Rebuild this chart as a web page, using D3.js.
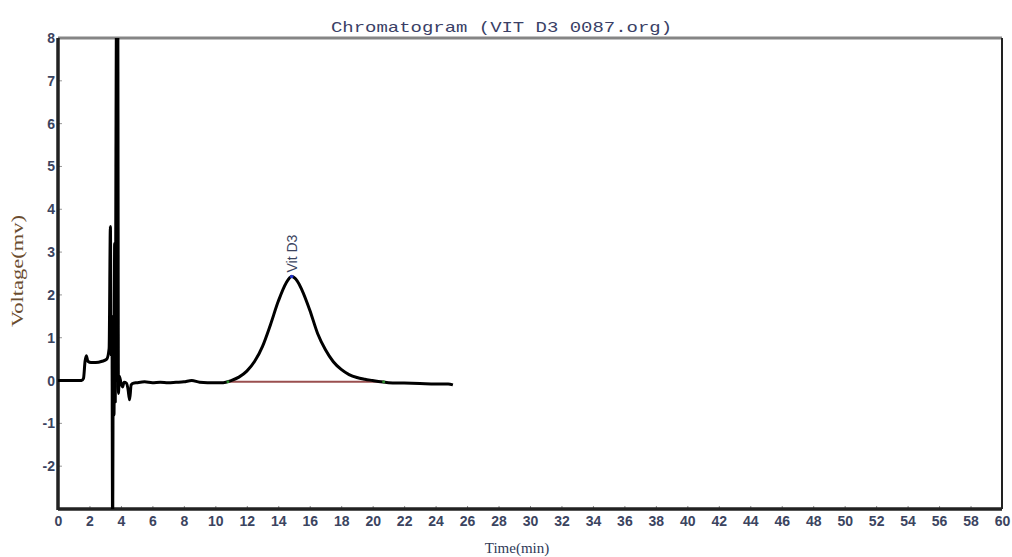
<!DOCTYPE html>
<html>
<head>
<meta charset="utf-8">
<script src="https://cdn.jsdelivr.net/npm/d3@7"></script>
<style>
  body { margin: 0; background: #fff; }
  svg { display: block; }
</style>
</head>
<body>
<div id="chart"></div>
<script>
// chromatogram trace, time (min) and voltage (mv)
var timeVals = [0, 0.5, 1.0, 1.5, 1.62, 1.72, 1.8, 1.9, 2.1, 2.4, 2.8, 3.1, 3.25, 3.33, 3.38, 3.43,
  3.47, 3.52, 3.56, 3.6, 3.64, 3.68, 3.72, 3.76, 3.8, 3.84, 3.9, 4.0, 4.1, 4.2, 4.35, 4.45, 4.55,
  4.65, 4.8, 5.0, 5.5, 6.0, 6.5, 7.0, 7.5, 8.0, 8.5, 9.0, 9.5, 10.0, 10.5, 11.0, 11.5, 12.0, 12.5,
  13.0, 13.5, 14.0, 14.5, 14.85, 15.2, 15.5, 16.0, 16.5, 17.0, 17.5, 18.0, 18.5, 19.0, 19.5, 20.0,
  20.5, 21.0, 22.0, 23.0, 24.0, 24.8, 25.1];
var voltVals = [0, 0, 0, 0, 0.05, 0.45, 0.58, 0.45, 0.42, 0.42, 0.45, 0.5, 0.75, 3.6, 0.6, 1.2,
  -3.6, 1.5, -0.8, 3.2, -0.5, 5.0, 8.6, 0.2, 8.6, -0.3, 0.1, -0.05, -0.15, -0.04, -0.06, -0.2, -0.45,
  -0.1, -0.06, -0.05, -0.03, -0.05, -0.04, -0.05, -0.04, -0.03, 0.0, -0.04, -0.05, -0.05, -0.05,
  0.0, 0.08, 0.22, 0.45, 0.8, 1.3, 1.85, 2.28, 2.43, 2.33, 2.12, 1.65, 1.1, 0.72, 0.44, 0.26, 0.14,
  0.07, 0.03, 0.0, -0.03, -0.05, -0.06, -0.07, -0.08, -0.08, -0.1];

// integration baseline and peak
var baseStart = [10.8, -0.03], baseEnd = [20.7, -0.03];
var peakName = "Vit D3", peakTime = 14.85, peakVolt = 2.43;

var xTicks = d3.range(0, 61, 2);
var yTicks = [-2, -1, 0, 1, 2, 3, 4, 5, 6, 7, 8];

var title = "Chromatogram (VIT D3 0087.org)";
var xLabel = "Time(min)", yLabel = "Voltage(mv)";

var W = 1012, H = 557;
var mLeft = 58, mRight = 1002, mTop = 38, mBottom = 509;

var x = d3.scaleLinear().domain([0, 60]).range([mLeft, mRight]);
var y = d3.scaleLinear().domain([-3, 8]).range([mBottom, mTop]);

var svg = d3.select("#chart").append("svg")
    .attr("width", W)
    .attr("height", H);

svg.append("defs").append("clipPath")
    .attr("id", "clip")
  .append("rect")
    .attr("x", mLeft).attr("y", mTop)
    .attr("width", mRight - mLeft).attr("height", mBottom - mTop);

// title
svg.append("text")
    .attr("x", (331 + 672) / 2)
    .attr("y", 32)
    .attr("text-anchor", "middle")
    .attr("textLength", 341)
    .attr("lengthAdjust", "spacingAndGlyphs")
    .style("font-family", "'Liberation Mono', 'DejaVu Sans Mono', monospace")
    .style("font-size", "15px")
    .style("fill", "#3a3f66")
    .text(title);

// axes
var fmt = function(d) { return String(d); };
var xAxis = d3.axisBottom(x).tickValues(xTicks).tickFormat(fmt).tickSize(3).tickPadding(4);
var yAxis = d3.axisLeft(y).tickValues(yTicks).tickFormat(fmt).tickSize(0).tickPadding(3);

var gx = svg.append("g")
    .attr("transform", "translate(0," + mBottom + ")")
    .call(xAxis);
var gy = svg.append("g")
    .attr("transform", "translate(" + mLeft + ",0)")
    .call(yAxis);

[gx, gy].forEach(function(g) {
  g.select(".domain").remove();
  g.selectAll(".tick line").attr("stroke", "#888");
  g.selectAll("text")
    .style("font-family", "'Liberation Sans', Arial, sans-serif")
    .style("font-size", "14px")
    .style("font-weight", "bold")
    .style("fill", "#3b4460");
});
gx.selectAll(".tick line").attr("y1", -3).attr("y2", 0);
gy.append("g").selectAll("line")
    .data(yTicks)
    .enter().append("line")
    .attr("x1", 0).attr("x2", 4)
    .attr("y1", function(d) { return y(d); })
    .attr("y2", function(d) { return y(d); })
    .attr("stroke", "#999");

// frame
svg.append("line").attr("x1", mLeft).attr("x2", mRight).attr("y1", mTop).attr("y2", mTop)
    .attr("stroke", "#858585").attr("stroke-width", 3);
svg.append("line").attr("x1", mRight).attr("x2", mRight).attr("y1", mTop).attr("y2", mBottom)
    .attr("stroke", "#222").attr("stroke-width", 2);
svg.append("line").attr("x1", mLeft).attr("x2", mLeft).attr("y1", mTop).attr("y2", mBottom + 1)
    .attr("stroke", "#222").attr("stroke-width", 3.5);
svg.append("line").attr("x1", mLeft).attr("x2", mRight).attr("y1", mBottom).attr("y2", mBottom)
    .attr("stroke", "#222").attr("stroke-width", 3.5);

// axis titles
svg.append("text")
    .attr("transform", "translate(23,271) rotate(-90)")
    .attr("text-anchor", "middle")
    .attr("textLength", 112)
    .attr("lengthAdjust", "spacingAndGlyphs")
    .style("font-family", "'Liberation Serif', 'Times New Roman', serif")
    .style("font-size", "17px")
    .style("fill", "#6a4c2e")
    .text(yLabel);
svg.append("text")
    .attr("x", 517)
    .attr("y", 553)
    .attr("text-anchor", "middle")
    .style("font-family", "'Liberation Serif', 'Times New Roman', serif")
    .style("font-size", "15px")
    .style("fill", "#2f3a58")
    .text(xLabel);

// baseline of the integrated peak
svg.append("line")
    .attr("x1", x(baseStart[0])).attr("y1", y(baseStart[1]))
    .attr("x2", x(baseEnd[0])).attr("y2", y(baseEnd[1]))
    .attr("stroke", "#9a4f4f").attr("stroke-width", 2);

var data = timeVals.map(function(t, i) { return [t, voltVals[i]]; });

var line = d3.line()
    .x(function(d) { return x(d[0]); })
    .y(function(d) { return y(d[1]); })
    .curve(d3.curveMonotoneX);

svg.append("path")
    .datum(data)
    .attr("clip-path", "url(#clip)")
    .attr("fill", "none")
    .attr("stroke", "#000")
    .attr("stroke-width", 3)
    .attr("stroke-linejoin", "round")
    .attr("d", line);

// peak markers
[baseStart, baseEnd].forEach(function(p) {
  svg.append("circle").attr("cx", x(p[0])).attr("cy", y(p[1])).attr("r", 1.5).attr("fill", "#2a8a2a");
});
svg.append("circle").attr("cx", x(peakTime)).attr("cy", y(peakVolt)).attr("r", 1.8).attr("fill", "#2233cc");

svg.append("text")
    .attr("transform", "translate(" + (x(peakTime) + 5) + "," + (y(peakVolt) - 4) + ") rotate(-90)")
    .style("font-family", "'Liberation Sans', Arial, sans-serif")
    .style("font-size", "14px")
    .style("fill", "#3b4460")
    .text(peakName);
</script>
</body>
</html>
